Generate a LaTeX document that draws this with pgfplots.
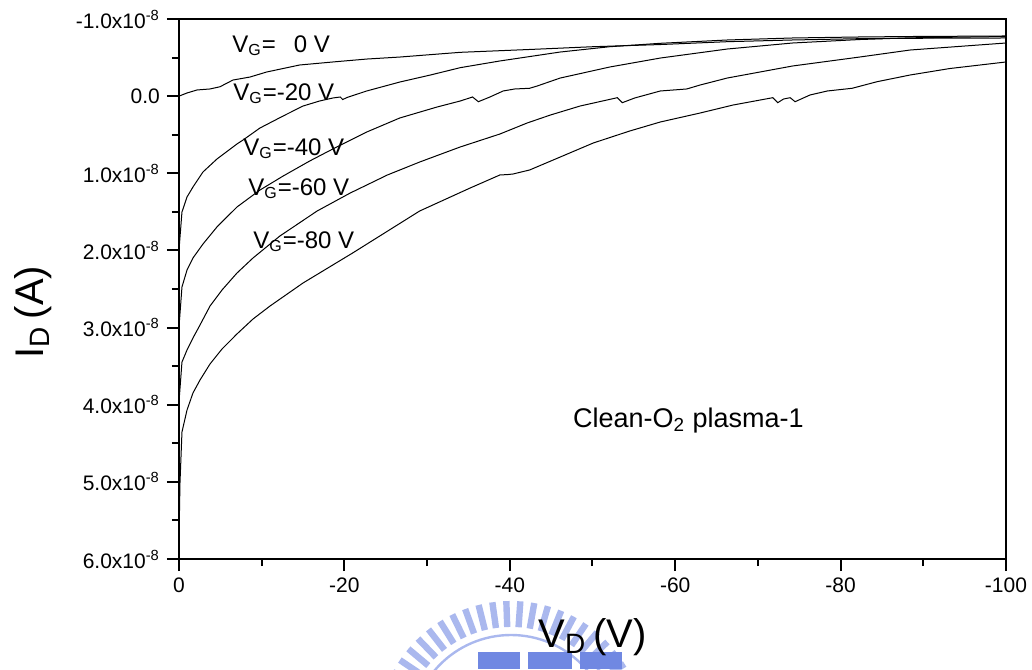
\documentclass[border=0pt]{standalone}
\usepackage{fontspec}
\setmainfont{Liberation Sans}
\usepackage{pgfplots}
\pgfplotsset{compat=1.18}

\definecolor{wmlight}{RGB}{170,184,238}
\definecolor{wmblue}{RGB}{112,136,226}
\pgfplotsset{ivcurve/.style={black, line width=0.5pt, mark=none}}

\begin{document}
\begin{tikzpicture}
% faint emblem behind the V_D title (axis box has its lower left corner at the origin)
\begin{scope}
  \clip (-89.5pt,-55pt) rectangle (426.5pt,270pt);
  \begin{scope}[shift={(166pt,-88pt)}]
    \foreach \a in {14,20,...,166}
      \draw[line width=3.2pt, wmlight] (\a:54pt) -- (\a:67pt);
    \draw[line width=1.2pt, wmlight] (0,0) circle (50pt);
  \end{scope}
  \fill[wmblue] (149.5pt,-55pt) rectangle (170.5pt,-46.5pt);
  \fill[wmblue] (174.5pt,-55pt) rectangle (196.5pt,-46.5pt);
  \fill[wmblue] (200.5pt,-55pt) rectangle (221.5pt,-46.5pt);
\end{scope}

\begin{axis}[
  scale only axis,
  width=413.5pt, height=270pt,
  xmin=-100, xmax=0, ymin=-1, ymax=6,
  x dir=reverse, y dir=reverse,
  axis line style={line width=1pt},
  xtick={0,-20,-40,-60,-80,-100},
  xticklabels={0,-20,-40,-60,-80,-100},
  minor x tick num=1,
  ytick={-1,0,1,2,3,4,5,6},
  yticklabels={-1.0x10\textsuperscript{-8},0.0,1.0x10\textsuperscript{-8},2.0x10\textsuperscript{-8},3.0x10\textsuperscript{-8},4.0x10\textsuperscript{-8},5.0x10\textsuperscript{-8},6.0x10\textsuperscript{-8}},
  minor y tick num=1,
  tick align=outside,
  major tick length=6pt, minor tick length=3.5pt,
  tick style={line width=1pt, black},
  xtick pos=bottom, ytick pos=left,
  ticklabel style={font=\fontsize{10.5}{12}\selectfont},
  clip=false,
]
% V_G = 0 V
\addplot[ivcurve] coordinates {(0,0.000) (-0.97,-0.041) (-2.18,-0.080) (-3.75,-0.093) (-4.96,-0.122)
 (-6.53,-0.209) (-8.59,-0.248) (-10.6,-0.313) (-14.6,-0.404) (-18.6,-0.443) (-22.7,-0.481)
 (-26.7,-0.507) (-34.0,-0.568) (-42.4,-0.605) (-50.1,-0.641) (-58.2,-0.669) (-66.3,-0.706)
 (-74.2,-0.728) (-82.3,-0.745) (-88.4,-0.750) (-100,-0.754)};
% V_G = -20 V
\addplot[ivcurve] coordinates {(0,1.995) (-0.36,1.502) (-0.97,1.307) (-1.69,1.178) (-2.90,0.983)
 (-4.59,0.815) (-7.01,0.620) (-7.74,0.569) (-9.79,0.413) (-12.6,0.257) (-15.0,0.128)
 (-17.0,0.063) (-18.6,0.024) (-19.5,0.011) (-19.8,0.044) (-20.3,0.018) (-22.7,-0.067)
 (-26.7,-0.183) (-30.4,-0.274) (-34.0,-0.369) (-38.8,-0.456) (-46.1,-0.572) (-52.1,-0.641)
 (-58.2,-0.685) (-66.3,-0.728) (-74.2,-0.754) (-82.3,-0.767) (-88.4,-0.773) (-100,-0.780)};
% V_G = -40 V
\addplot[ivcurve] coordinates {(0,2.993) (-0.36,2.474) (-0.97,2.254) (-1.69,2.098) (-2.90,1.917)
 (-4.59,1.696) (-7.01,1.437) (-9.79,1.217) (-12.6,1.035) (-15.8,0.841) (-18.6,0.685)
 (-22.7,0.465) (-26.7,0.283) (-31.2,0.141) (-34.0,0.063) (-35.5,0.011) (-36.2,0.072)
 (-37.6,0.011) (-39.2,-0.067) (-40.6,-0.093) (-42.4,-0.102) (-43.3,-0.131) (-46.1,-0.235)
 (-52.1,-0.378) (-58.2,-0.494) (-66.3,-0.611) (-74.2,-0.689) (-82.3,-0.734) (-88.4,-0.756)
 (-100,-0.773)};
% V_G = -60 V
\addplot[ivcurve] coordinates {(0,3.965) (-0.36,3.447) (-0.97,3.291) (-1.69,3.135) (-2.54,2.967)
 (-3.75,2.721) (-5.20,2.513) (-7.01,2.293) (-8.95,2.098) (-12.2,1.813) (-16.7,1.489)
 (-20.7,1.256) (-25.2,1.022) (-29.1,0.854) (-34.0,0.659) (-38.8,0.491) (-42.1,0.348)
 (-44.9,0.245) (-48.5,0.128) (-53.0,0.020) (-53.6,0.085) (-55.1,0.024) (-58.2,-0.067)
 (-61.4,-0.093) (-63.0,-0.144) (-66.3,-0.235) (-74.2,-0.391) (-82.3,-0.507) (-88.4,-0.598)
 (-100,-0.689)};
% V_G = -80 V
\addplot[ivcurve] coordinates {(0,5.754) (-0.12,5.015) (-0.36,4.354) (-0.97,4.069) (-1.69,3.848)
 (-2.54,3.680) (-3.75,3.472) (-5.20,3.278) (-7.01,3.083) (-8.95,2.889) (-11.0,2.721)
 (-15.0,2.422) (-21.0,2.033) (-29.1,1.489) (-35.2,1.191) (-38.8,1.022) (-39.8,1.016)
 (-40.4,1.009) (-42.4,0.957) (-46.1,0.789) (-50.1,0.607) (-54.5,0.452) (-58.2,0.335)
 (-63.0,0.219) (-67.0,0.115) (-71.8,0.020) (-72.4,0.085) (-73.1,0.037) (-73.9,0.020)
 (-74.5,0.072) (-76.3,-0.015) (-78.4,-0.067) (-81.4,-0.102) (-84.4,-0.187) (-88.4,-0.274)
 (-93.2,-0.358) (-100,-0.443)};

\begin{scope}[every node/.style={anchor=base west, inner sep=0pt, font=\fontsize{12}{14}\selectfont}]
\node at (axis cs:-6.41,-0.572) {V\textsubscript{G}=\hspace{9pt}0 V};
\node at (axis cs:-6.53,0.050) {V\textsubscript{G}=-20 V};
\node at (axis cs:-7.74,0.763) {V\textsubscript{G}=-40 V};
\node at (axis cs:-8.34,1.282) {V\textsubscript{G}=-60 V};
\node at (axis cs:-8.95,1.969) {V\textsubscript{G}=-80 V};
\end{scope}
\node[anchor=base west, inner sep=0pt, font=\fontsize{13.5}{16}\selectfont]
  at (axis cs:-47.6,4.289) {Clean-O\textsubscript{2} plasma-1};

% axis titles
\node[anchor=base, inner sep=0pt, font=\fontsize{20}{24}\selectfont]
  at (axis cs:-50,7.15) {V\textsubscript{D}\,(V)};
\node[anchor=base, rotate=90, inner sep=0pt, font=\fontsize{20}{24}\selectfont]
  at (axis cs:16.4,2.8) {I\textsubscript{D}\,(A)};
\end{axis}
\pgfresetboundingbox
\path[use as bounding box] ([shift={(-89.5pt,-55pt)}]current axis.south west)
  rectangle ([shift={(13pt,9.5pt)}]current axis.north east);
\end{tikzpicture}
\end{document}
